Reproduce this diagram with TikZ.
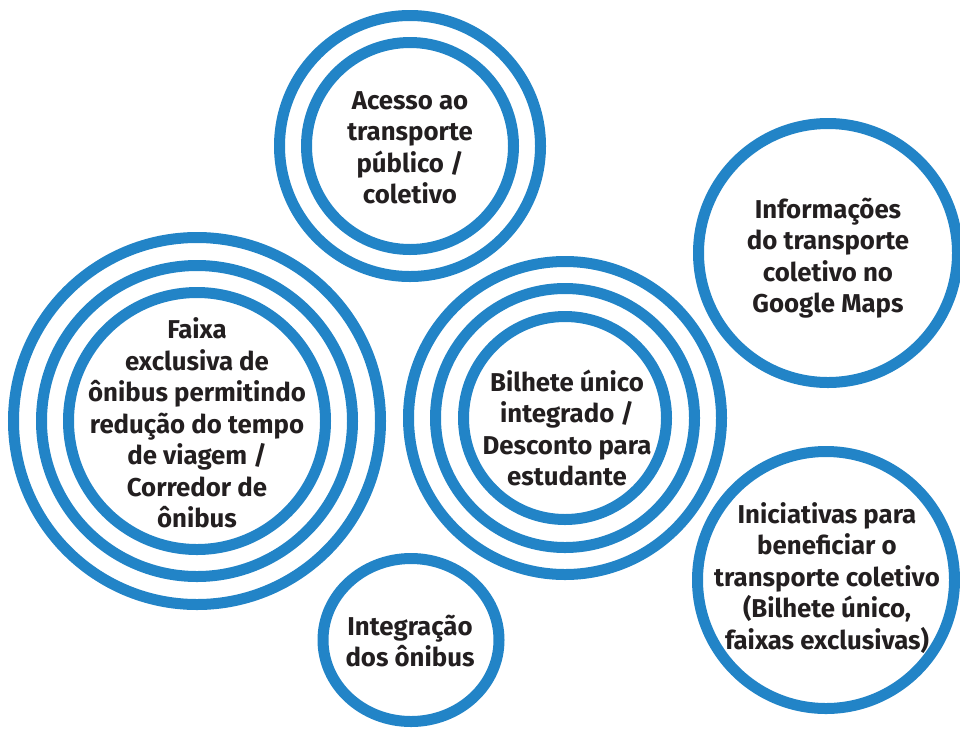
\documentclass[tikz,border=0pt]{standalone}
\usepackage{fontspec}
\setmainfont{Fira Sans}
\definecolor{ringblue}{RGB}{34,132,199}
\definecolor{txt}{RGB}{35,31,32}
\begin{document}
\begin{tikzpicture}[x=1pt,y=-1pt,
  ring/.style={draw=ringblue,line width=11pt},
  label/.style={align=center,text=txt,font=\fontsize{25.8}{31.5}\selectfont\bfseries,inner sep=0pt}]
\useasboundingbox (0,0) rectangle (960,729);
% centres
\coordinate (cA) at (410,146);
\coordinate (cI) at (828,253);
\coordinate (cF) at (197,421);
\coordinate (cB) at (565,418);
\coordinate (cG) at (411,640);
\coordinate (cN) at (826,580);
% rings
\draw[ring] (cA) circle[radius=130.5];
\draw[ring] (cA) circle[radius=103.5];
\draw[ring] (cI) circle[radius=129.5];
\draw[ring] (cF) circle[radius=183.5];
\draw[ring] (cF) circle[radius=155.5];
\draw[ring] (cF) circle[radius=128.5];
\draw[ring] (cB) circle[radius=156.5];
\draw[ring] (cB) circle[radius=129.5];
\draw[ring] (cB) circle[radius=101.5];
\draw[ring] (cG) ellipse[x radius=88, y radius=81.5];
\draw[ring] (cN) circle[radius=128.5];
% texts
\node[label] (tA) at (410,148) {Acesso ao\\transporte\\público /\\coletivo};
\node[label] (tI) at (828,258) {Informações\\do transporte\\coletivo no\\Google Maps};
\node[label] (tF) at (197,423) {Faixa\\exclusiva de\\ônibus permitindo\\redução do tempo\\de viagem /\\Corredor de\\ônibus};
\node[label] (tB) at (567,428) {Bilhete único\\integrado /\\Desconto para\\estudante};
\node[label] (tG) at (410,641) {Integração\\dos ônibus};
\node[label] (tN) at (827,578) {Iniciativas para\\beneficiar o\\transporte coletivo\\(Bilhete único,\\faixas exclusivas)};
\end{tikzpicture}
\end{document}
